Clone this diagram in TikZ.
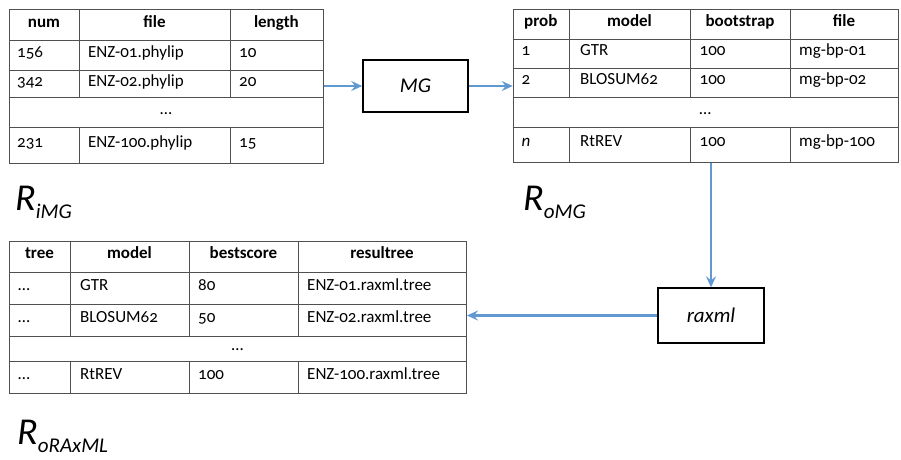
\documentclass[tikz,border=0pt]{standalone}
\usepackage{fontspec}
\setmainfont[Numbers=OldStyle]{Carlito}
\usetikzlibrary{arrows.meta}
\definecolor{tgray}{RGB}{80,80,80}
\definecolor{arrblue}{RGB}{96,152,210}
\newcommand{\cellfont}{\fontsize{17}{20}\selectfont}
\tikzset{
  tline/.style={draw=tgray, line width=1pt},
  tframe/.style={tline, rectangle, inner sep=0pt, anchor=north west},
  cell/.style={inner sep=0pt, anchor=west, font=\cellfont, text height=1.55ex, text depth=0.4ex},
  headcell/.style={cell, anchor=center, font=\cellfont\bfseries},
  dotcell/.style={cell, anchor=center},
  procbox/.style={draw=black, line width=1.4pt, fill=white, rectangle, inner sep=0pt,
    font=\fontsize{21}{24}\selectfont\itshape},
  arr/.style={draw=arrblue, line width=2.3pt, -{Stealth[length=11pt,width=10pt,inset=4pt]}},
  rlabel/.style={anchor=base west, inner sep=0pt}
}
\newcommand{\Rlab}[1]{{\fontsize{38}{40}\selectfont\itshape R}{\fontsize{21}{24}\selectfont\itshape\raisebox{-8pt}{#1}}}
\begin{document}
\begin{tikzpicture}[x=1pt,y=-1pt]
\useasboundingbox (0,0) rectangle (901,459);

% ---------- Table 1 ----------
\node[tframe, minimum width=313.7pt, minimum height=153.4pt] (t1) at (9,9.3) {};
\foreach \yy in {40.7,70,97.7,127.7} \draw[tline] (9,\yy) -- (322.7,\yy);
\foreach \xx in {79,230} {\draw[tline] (\xx,9.3) -- (\xx,97.7); \draw[tline] (\xx,127.7) -- (\xx,162.7);}
\node[headcell] (t1h1) at (44,25) {num};
\node[headcell] (t1h2) at (154.5,25) {file};
\node[headcell] (t1h3) at (276.4,25) {length};
\node[cell] (t1a1) at (17,55) {156};
\node[cell] (t1a2) at (88,55) {ENZ-01.phylip};
\node[cell] (t1a3) at (239,55) {10};
\node[cell] (t1b1) at (17,83.5) {342};
\node[cell] (t1b2) at (88,83.5) {ENZ-02.phylip};
\node[cell] (t1b3) at (239,83.5) {20};
\node[dotcell] (t1d) at (165.9,112) {…};
\node[cell] (t1c1) at (17,144.7) {231};
\node[cell] (t1c2) at (88,144.7) {ENZ-100.phylip};
\node[cell] (t1c3) at (239,144.7) {15};

% ---------- Table 2 ----------
\node[tframe, minimum width=385.3pt, minimum height=152.7pt] (t2) at (512.7,9.3) {};
\foreach \yy in {39,68,97,127} \draw[tline] (512.7,\yy) -- (898,\yy);
\foreach \xx in {569,690,790} {\draw[tline] (\xx,9.3) -- (\xx,97); \draw[tline] (\xx,127) -- (\xx,162);}
\node[headcell] (t2h1) at (540.8,24) {prob};
\node[headcell] (t2h2) at (629.5,24) {model};
\node[headcell] (t2h3) at (740,24) {bootstrap};
\node[headcell] (t2h4) at (844,24) {file};
\node[cell] (t2a1) at (521.5,53) {1};
\node[cell] (t2a2) at (580,53) {GTR};
\node[cell] (t2a3) at (699.5,53) {100};
\node[cell] (t2a4) at (799,53) {mg-bp-01};
\node[cell] (t2b1) at (521.5,82) {2};
\node[cell] (t2b2) at (580,82) {BLOSUM62};
\node[cell] (t2b3) at (699.5,82) {100};
\node[cell] (t2b4) at (799,82) {mg-bp-02};
\node[dotcell] (t2d) at (705.3,111.5) {…};
\node[cell] (t2c1) at (521.5,144) {\itshape n};
\node[cell] (t2c2) at (580,144) {RtREV};
\node[cell] (t2c3) at (699.5,144) {100};
\node[cell] (t2c4) at (799,144) {mg-bp-100};

% ---------- Table 3 ----------
\node[tframe, minimum width=457pt, minimum height=152pt] (t3) at (9,241) {};
\foreach \yy in {272,304,336,361} \draw[tline] (9,\yy) -- (466,\yy);
\foreach \xx in {70,189,298} {\draw[tline] (\xx,241) -- (\xx,336); \draw[tline] (\xx,361) -- (\xx,393);}
\node[headcell] (t3h1) at (39.5,256) {tree};
\node[headcell] (t3h2) at (129.5,256) {model};
\node[headcell] (t3h3) at (243.5,256) {bestscore};
\node[headcell] (t3h4) at (382,256) {resultree};
\node[cell] (t3a1) at (18,287.5) {…};
\node[cell] (t3a2) at (80,287.5) {GTR};
\node[cell] (t3a3) at (198,287.5) {80};
\node[cell] (t3a4) at (307,287.5) {ENZ-01.raxml.tree};
\node[cell] (t3b1) at (18,319.5) {…};
\node[cell] (t3b2) at (80,319.5) {BLOSUM62};
\node[cell] (t3b3) at (198,319.5) {50};
\node[cell] (t3b4) at (307,319.5) {ENZ-02.raxml.tree};
\node[dotcell] (t3d) at (237.5,348) {…};
\node[cell] (t3c1) at (18,376.5) {…};
\node[cell] (t3c2) at (80,376.5) {RtREV};
\node[cell] (t3c3) at (198,376.5) {100};
\node[cell] (t3c4) at (307,376.5) {ENZ-100.raxml.tree};

% ---------- Process boxes ----------
\node[procbox, minimum width=105pt, minimum height=52pt] (mg) at (415.4,86) {MG};
\node[procbox, minimum width=106pt, minimum height=55pt] (rax) at (711,315.5) {raxml};

% ---------- Arrows ----------
\draw[arr] (t1.east |- mg.west) -- (mg.west);
\draw[arr] (mg.east) -- (mg.east -| t2.west);
\draw[arr] (t2.south -| rax.north) -- (rax.north);
\draw[arr] (rax.west) -- (rax.west -| t3.east);

% ---------- Labels ----------
\node[rlabel] (l1) at (15,210) {\Rlab{iMG}};
\node[rlabel] (l2) at (523,210) {\Rlab{oMG}};
\node[rlabel] (l3) at (17,444) {\Rlab{oRAxML}};
\end{tikzpicture}
\end{document}
